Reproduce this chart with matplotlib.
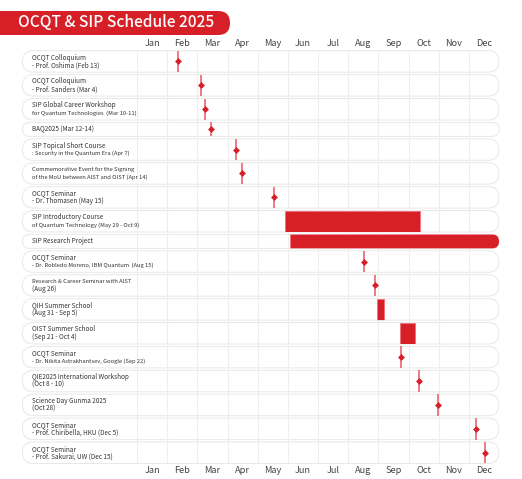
import matplotlib
matplotlib.use("Agg")
import matplotlib.pyplot as plt
from matplotlib.patches import FancyBboxPatch, Rectangle

plt.rcParams['font.family'] = ['Noto Sans CJK JP', 'DejaVu Sans']

# ---------------- data ----------------
months = ["Jan", "Feb", "Mar", "Apr", "May", "Jun", "Jul", "Aug", "Sep", "Oct", "Nov", "Dec"]

label_line1 = [
    "OCQT Colloquium",
    "OCQT Colloquium",
    "SIP Global Career Workshop",
    "BAQ2025 (Mar 12-14)",
    "SIP Topical Short Course",
    "Commemorative Event for the Signing",
    "OCQT Seminar",
    "SIP Introductory Course",
    "SIP Research Project",
    "OCQT Seminar",
    "Research & Career Seminar with AIST",
    "QIH Summer School",
    "OIST Summer School",
    "OCQT Seminar",
    "QIE2025 International Workshop",
    "Science Day Gunma 2025",
    "OCQT Seminar",
    "OCQT Seminar",
]
label_line2 = [
    "- Prof. Oshima (Feb 13)",
    "- Prof. Sanders (Mar 4)",
    "for Quantum Technologies  (Mar 10-11)",
    "",
    ": Security in the Quantum Era (Apr 7)",
    "of the MoU between AIST and OIST (Apr 14)",
    "- Dr. Thomasen (May 15)",
    "of Quantum Technology (May 29 - Oct 9)",
    "",
    "- Dr. Robledo Moreno, IBM Quantum  (Aug 15)",
    "(Aug 26)",
    "(Aug 31 - Sep 5)",
    "(Sep 21 - Oct 4)",
    "- Dr. Nikita Astrakhantsev, Google (Sep 22)",
    "(Oct 8 - 10)",
    "(Oct 28)",
    "- Prof. Chiribella, HKU (Dec 5)",
    "- Prof. Sakurai, UW (Dec 15)",
]
# position on the month axis (0 = 1 Jan, 12 = 31 Dec)
start_pos = [1.36, 2.13, 2.26, 2.44, 3.29, 3.48, 4.53, 4.90, 5.07, 7.52,
             7.88, 7.95, 8.73, 8.76, 9.34, 9.97, 11.23, 11.52]
end_pos   = [1.36, 2.13, 2.26, 2.44, 3.29, 3.48, 4.53, 9.39, 12.00, 7.52,
             7.88, 8.20, 9.23, 8.76, 9.34, 9.97, 11.23, 11.52]

# lines set in condensed (smaller) type: (row index, line number)
narrow = {(2, 2), (4, 2), (5, 1), (5, 2), (7, 2), (9, 2), (10, 1), (13, 2)}

# ---------------- style ----------------
RED = "#d71f27"
TXT = "#333333"
GRID = "#eeeeee"
OUTLINE = "#e8e8e8"
FS = 4.6
FS_N = 4.2

W, H = 522, 479
fig = plt.figure(figsize=(W / 100, H / 100), dpi=100)
fig.patch.set_facecolor("white")

h2, h1, gap = 21.5, 14.0, 2.4
heights = [h1 if s == "" else h2 for s in label_line2]
tops = []
y = 0.0
for h in heights:
    tops.append(y)
    y += h + gap
total = y - gap

ax_left, ax_right, ax_top = 137, 499, 50.7
ax = fig.add_axes([ax_left / W, 1 - (ax_top + total) / H,
                   (ax_right - ax_left) / W, total / H])
ax.set_xlim(0, 12)
ax.set_ylim(total, 0)
ax.axis("off")

px_per_x = (ax_right - ax_left) / 12.0
aspect = px_per_x  # y units (px) per x unit
label_x = (31.7 - ax_left) / px_per_x
pill_x0 = (22.5 - ax_left) / px_per_x

pills = []
for i, (t, h) in enumerate(zip(tops, heights)):
    r = (h / 2) / px_per_x
    pill = FancyBboxPatch((pill_x0, t), 12 - pill_x0, h,
                          boxstyle=f"round,pad=0,rounding_size={r}",
                          mutation_aspect=aspect,
                          facecolor="white", edgecolor=OUTLINE, lw=0.7,
                          clip_on=False, zorder=1)
    ax.add_patch(pill)
    pills.append(pill)

ax.vlines(range(12), 0, total, color=GRID, lw=0.8, zorder=2)

for i, (t, h) in enumerate(zip(tops, heights)):
    c = t + h / 2
    s, e = start_pos[i], end_pos[i]
    if e > s:
        bar = Rectangle((s, t), e - s, h, facecolor=RED, edgecolor="#ee7077",
                        lw=0.6, zorder=3)
        ax.add_patch(bar)
        bar.set_clip_path(pills[i])
    else:
        ax.vlines(s, t, t + h, color="#e9646c", lw=1.2, zorder=3)
        ax.plot([s], [c], marker="D", ms=3.0, color=RED, mec=RED, mew=0.5,
                zorder=4)

    l1, l2 = label_line1[i], label_line2[i]
    if l2 == "":
        ax.text(label_x, c, l1, ha="left", va="center", fontsize=FS,
                color=TXT, clip_on=False, zorder=5)
    else:
        fs1 = FS_N if (i, 1) in narrow else FS
        fs2 = FS_N if (i, 2) in narrow else FS
        ax.text(label_x, c - 3.9, l1, ha="left", va="center", fontsize=fs1,
                color=TXT, clip_on=False, zorder=5)
        ax.text(label_x, c + 3.9, l2, ha="left", va="center", fontsize=fs2,
                color=TXT, clip_on=False, zorder=5)

for k, m in enumerate(months):
    ax.text(k + 0.5, -6.8, m, ha="center", va="center", fontsize=6.6,
            color="#444444", clip_on=False)
    ax.text(k + 0.5, total + 7.2, m, ha="center", va="center", fontsize=6.6,
            color="#444444", clip_on=False)

# title banner
banner = FancyBboxPatch((-0.3, (H - 35) / 100), 2.6, 0.24,
                        boxstyle="round,pad=0,rounding_size=0.12",
                        transform=fig.dpi_scale_trans, facecolor=RED,
                        edgecolor="none", zorder=1)
fig.add_artist(banner)
fig.text(116 / W, (H - 23) / H, "OCQT & SIP Schedule 2025", ha="center",
         va="center", fontsize=11.2, color="white", fontweight="medium")

fig.savefig("out.png", dpi=100)
